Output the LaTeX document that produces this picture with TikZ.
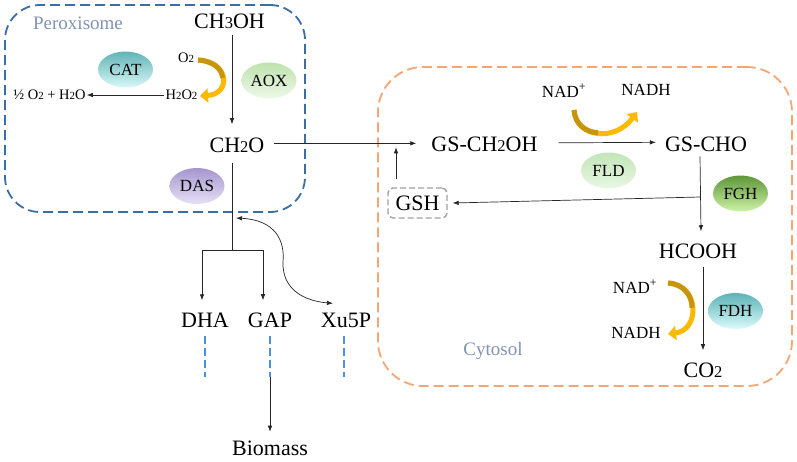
\documentclass[tikz,border=0pt]{standalone}
\usepackage{fontspec}
\setmainfont{Liberation Serif}
\usepackage{graphicx}
\usetikzlibrary{arrows.meta,shapes.geometric}
\newcommand\dg[1]{\scalebox{0.75}{#1}}
\definecolor{peroxblue}{HTML}{3A6EA5}
\definecolor{cytorange}{HTML}{F4A774}
\definecolor{labelblue}{HTML}{8293B2}
\definecolor{golddark}{HTML}{C8940C}
\definecolor{goldlight}{HTML}{FBBA00}
\definecolor{dashblue}{HTML}{4A92E0}
\definecolor{gshgray}{HTML}{A0A0A0}
\begin{document}
\begin{tikzpicture}[x=1pt,y=-1pt,
  main/.style={font=\fontsize{22}{24}\selectfont, inner sep=1pt, anchor=base},
  small/.style={font=\fontsize{14.5}{16}\selectfont, inner sep=1pt, anchor=base},
  nad/.style={font=\fontsize{17}{19}\selectfont, inner sep=1pt, anchor=base},
  comp/.style={font=\fontsize{19}{21}\selectfont, text=labelblue, inner sep=1pt, anchor=base},
  enz/.style={ellipse, minimum width=55pt, minimum height=36pt, inner sep=0pt, font=\fontsize{17}{19}\selectfont, shading angle=40},
  arr/.style={-{Latex[length=6pt,width=4.5pt]}, line width=0.7pt, draw=black!85},
  plain/.style={line width=0.7pt, draw=black!85},
  goldarr/.style={line width=5pt, draw=goldlight, -{Triangle[length=8pt,width=14pt]}},
  goldpart/.style={line width=5pt, draw=golddark},
  dashdot/.style={draw=dashblue, line width=2pt, dash pattern=on 8pt off 4pt},
  compbox/.style={draw, line width=1.8pt, dash pattern=on 10pt off 5pt, inner sep=0pt}
]
\useasboundingbox (0,0) rectangle (797,461);
\fill[white] (0,0) rectangle (797,461);

% compartments
\node[compbox, draw=peroxblue, rounded corners=35pt, minimum width=300pt, minimum height=207pt] (perox) at (155,108.5) {};
\node[compbox, draw=cytorange, rounded corners=45pt, minimum width=414pt, minimum height=319pt] (cyto) at (585,226.5) {};
\node[comp] (peroxlbl) at (78,29) {Peroxisome};
\node[comp] (cytolbl) at (493,355) {Cytosol};

% enzymes
\node[enz, top color={rgb,255:red,98;green,179;blue,181}, bottom color={rgb,255:red,216;green,248;blue,248}] (cat) at (125.5,69.5) {CAT};
\node[enz, top color={rgb,255:red,191;green,226;blue,174}, bottom color={rgb,255:red,238;green,249;blue,232}] (aox) at (269,80.5) {AOX};
\node[enz, top color={rgb,255:red,165;green,150;blue,206}, bottom color={rgb,255:red,230;green,224;blue,246}] (das) at (197,186) {DAS};
\node[enz, top color={rgb,255:red,194;green,229;blue,184}, bottom color={rgb,255:red,234;green,247;blue,228}] (fld) at (608.5,170.5) {FLD};
\node[enz, shading angle=0, top color={rgb,255:red,94;green,151;blue,58}, bottom color={rgb,255:red,205;green,242;blue,166}] (fgh) at (740.5,193.5) {FGH};
\node[enz, top color={rgb,255:red,94;green,178;blue,182}, bottom color={rgb,255:red,218;green,251;blue,251}] (fdh) at (735.5,311) {FDH};

% metabolites
\node[main] (ch3oh) at (229.5,28.5) {CH\dg{3}OH};
\node[main] (ch2o) at (237,152) {CH\dg{2}O};
\node[main] (gsch2oh) at (484.5,151) {GS-CH\dg{2}OH};
\node[main] (gscho) at (706,151) {GS-CHO};
\node[main] (hcooh) at (698,258) {HCOOH};
\node[main] (co2) at (703,377) {CO\dg{2}};
\node[main] (dha) at (205,327) {DHA};
\node[main] (gap) at (270,327) {GAP};
\node[main] (xu5p) at (346,327) {Xu5P};
\node[main] (biomass) at (270,455.5) {Biomass};
\node[small] (o2) at (186,62) {O\dg{2}};
\node[small] (h2o2) at (181.5,99) {H\dg{2}O\dg{2}};
\node[small] (half) at (49.5,99) {½ O\dg{2} + H\dg{2}O};
\node[nad] (nadp1) at (564,97) {NAD\textsuperscript{+}};
\node[nad] (nadh1) at (646,95) {NADH};
\node[nad] (nadp2) at (635,293) {NAD\textsuperscript{+}};
\node[nad] (nadh2) at (636,338) {NADH};
\node[draw=gshgray, line width=1.4pt, dash pattern=on 6pt off 3pt, rounded corners=5pt, minimum width=59pt, minimum height=30pt, inner sep=0pt, font=\fontsize{22}{24}\selectfont] (gsh) at (417.5,203) {GSH};

% peroxisome reactions
\draw[arr] ([shift={(2.5,5.5)}]ch3oh.south) -- ([shift={(-5,-12)}]ch2o.north);
\draw[arr] (h2o2.west |- 0,95) -- (half.east |- 0,95);
\coordinate (g1s) at (198,60);
\coordinate (g1e) at (200,96);
\draw[goldarr] (g1s) .. controls (230,62) and (231,94) .. (g1e);
\draw[goldpart] (g1s) .. controls (214,61) and (222.25,69.5) .. (222.6,78);

% CH2O -> GS-CH2OH
\draw[arr] ([shift={(8,-1.5)}]ch2o.east) -- ([shift={(-14,-0.5)}]gsch2oh.west);

% DAS branch
\coordinate (br2) at (232,250);
\draw[plain] ([shift={(-5,10)}]ch2o.south) -- (br2);
\draw[arr] (br2) -| ([shift={(-3,-11)}]dha.north);
\draw[arr] (br2) -| ([shift={(-7,-11)}]gap.north);
\coordinate (dasj) at (236,218);
\draw[{Latex[length=6pt,width=4.5pt]}-{Latex[length=6pt,width=4.5pt]}, line width=0.7pt, draw=black!85]
  (dasj) .. controls (275,220) and (285,240) .. (283,262) .. controls (282,290) and (305,301) .. ([shift={(-13,-8)}]xu5p.north);

% dashed links to biomass
\draw[dashdot] ([shift={(0,8)}]dha.south) -- ++(0,41);
\draw[dashdot] ([shift={(0,8)}]gap.south) -- ++(0,41) coordinate (gapend);
\draw[dashdot] ([shift={(-2,8)}]xu5p.south) -- ++(0,41);
\draw[arr] (gapend) -- ([shift={(0,-8)}]biomass.north);

% cytosol reactions
\draw[arr] ([shift={(20,-1)}]gsch2oh.east) -- ([shift={(-8,-1.5)}]gscho.west);
\coordinate (g2s) at (574,110);
\coordinate (g2e) at (637,112);
\draw[goldarr] (g2s) .. controls (576,138) and (615,142) .. (g2e);
\draw[goldpart] (g2s) .. controls (575,124) and (585.25,132) .. (598,132.75);

\draw[arr] ([shift={(-6,4)}]gscho.south) -- ([shift={(3,-11)}]hcooh.north);
\coordinate (br1) at (700.5,197);
\draw[arr] (br1) -- ([shift={(5,0)}]gsh.east);
\draw[arr] ([shift={(-21.5,-8)}]gsh.north) -- ([shift={(-21.5,-40)}]gsh.north);

\draw[arr] ([shift={(5,8)}]hcooh.south) -- ([shift={(0,-11)}]co2.north);
\coordinate (g3s) at (668,283);
\coordinate (g3e) at (668,334);
\draw[goldarr] (g3s) .. controls (700,285) and (700,330) .. (g3e);
\draw[goldpart] (g3s) .. controls (684,284) and (692,295.75) .. (692,307.75);
\end{tikzpicture}
\end{document}
